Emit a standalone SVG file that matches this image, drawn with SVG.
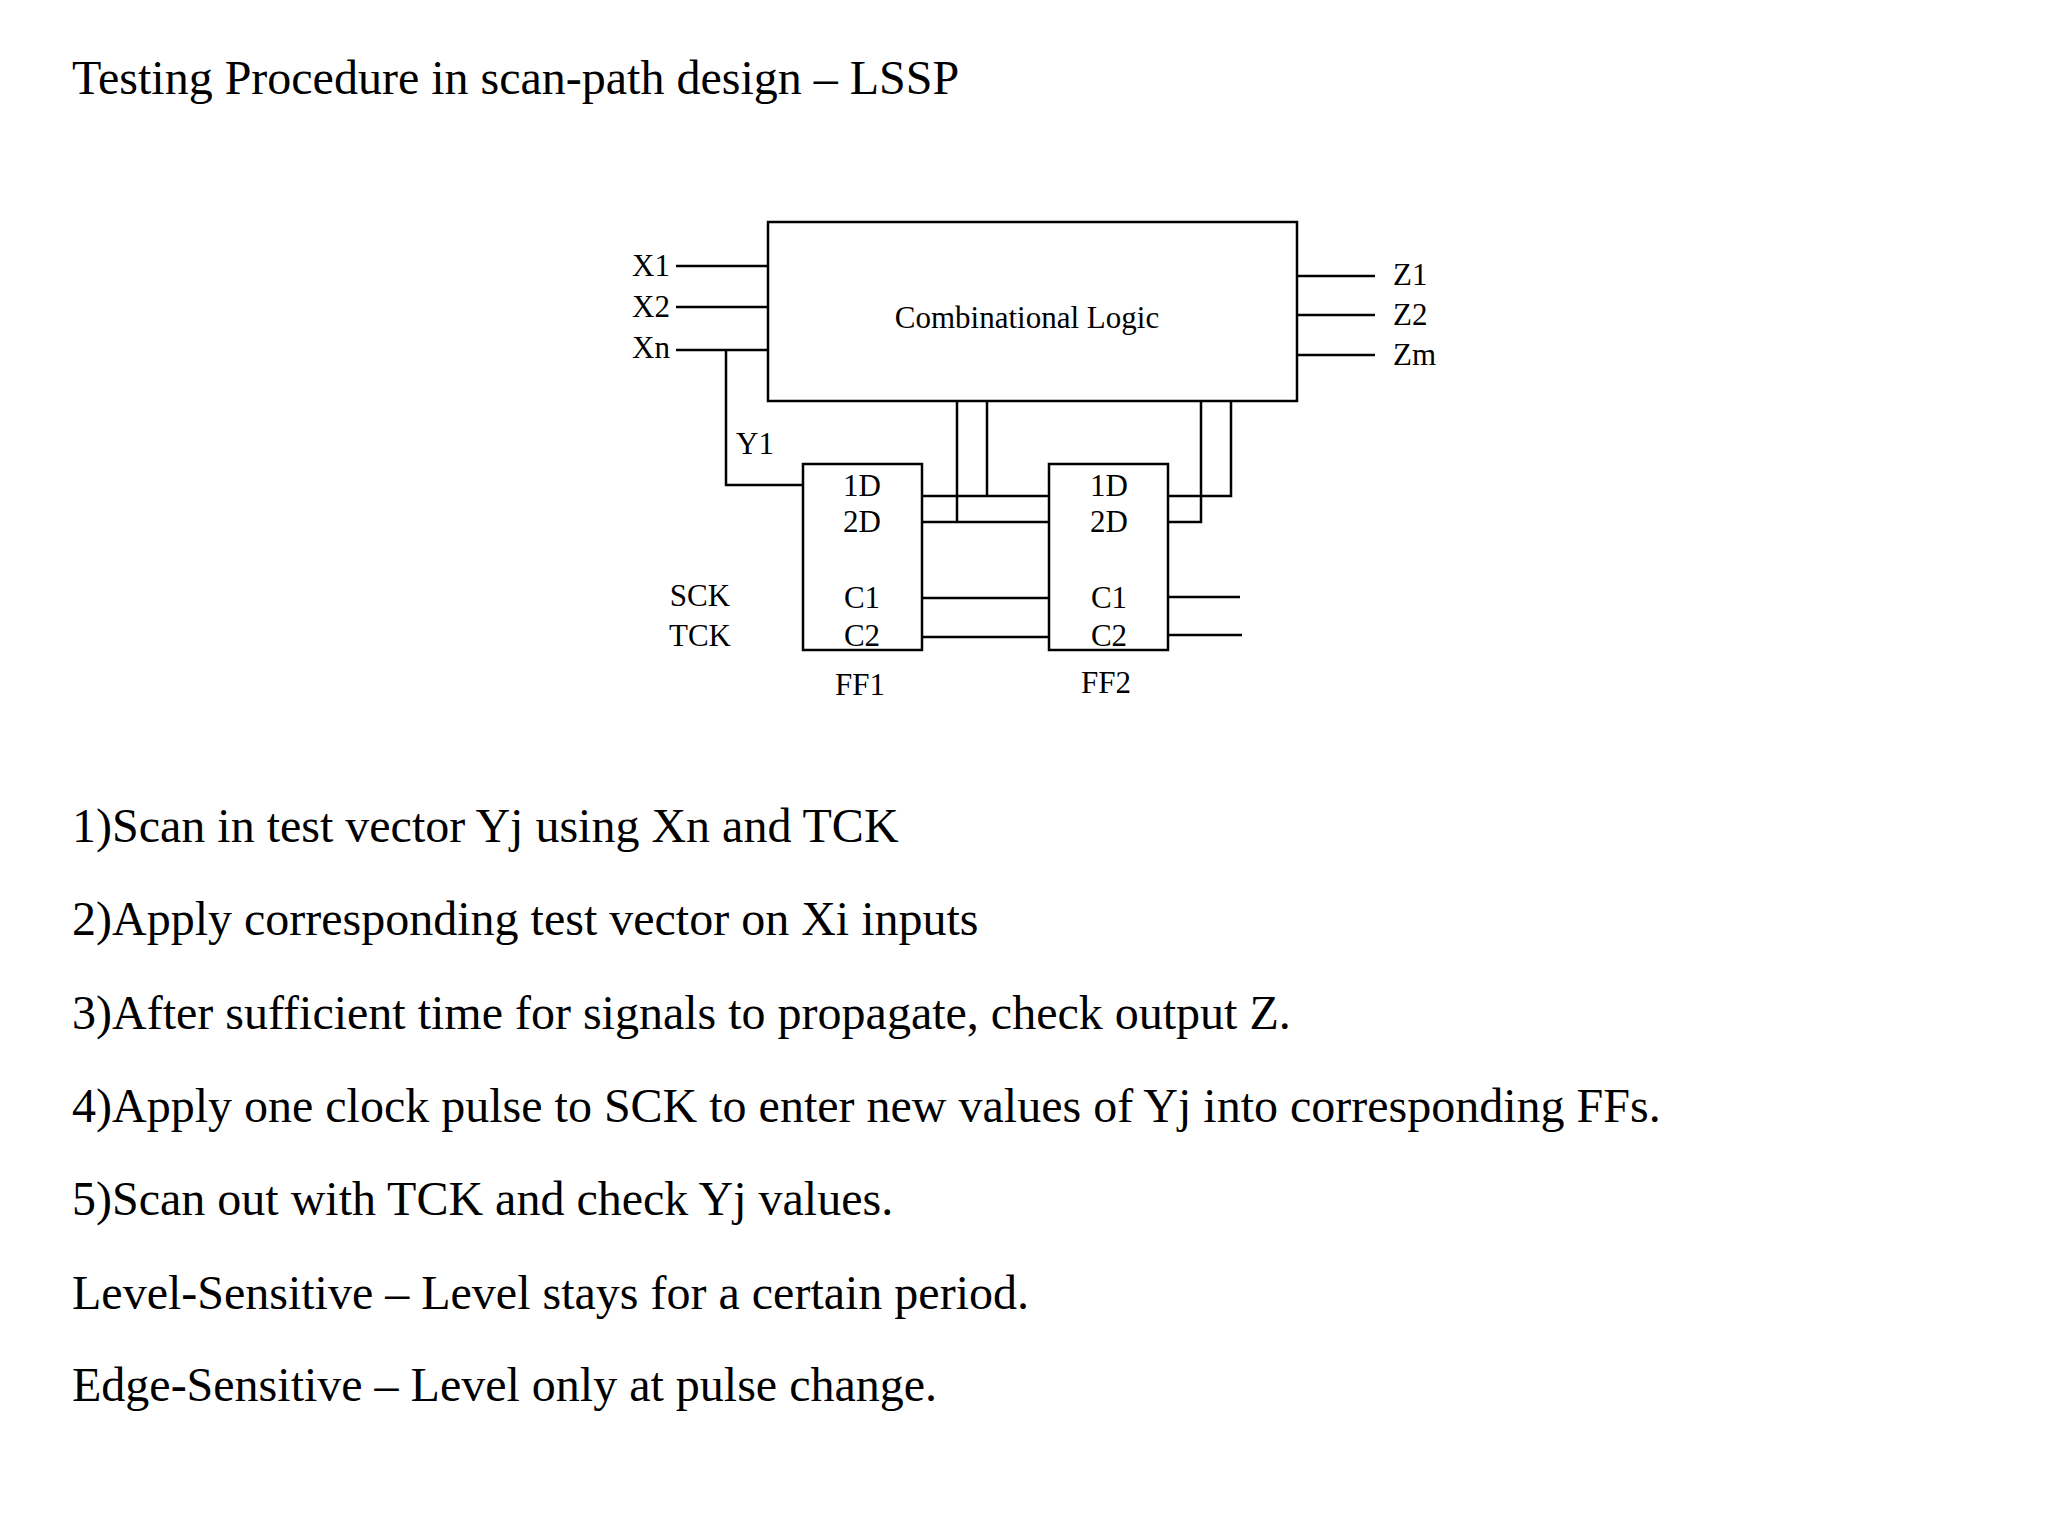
<svg xmlns="http://www.w3.org/2000/svg" width="2048" height="1536" viewBox="0 0 2048 1536">
<style>
.t{font-family:"Liberation Serif","Times New Roman",serif;font-size:48px;fill:#000}
.d{font-family:"Liberation Serif","Times New Roman",serif;font-size:31px;fill:#000}
.m{text-anchor:middle}
.w{stroke:#000;stroke-width:2.5;fill:none}
.b{stroke:#000;stroke-width:2.5;fill:#fff}
</style>
<rect width="2048" height="1536" fill="#fff"/>
<text class="t" x="72" y="94">Testing Procedure in scan-path design – LSSP</text>
<g id="comb"><rect class="b" x="768" y="222" width="529" height="179"/><text class="d m" x="1027" y="328">Combinational Logic</text></g>
<g id="ff1"><rect class="b" x="803" y="464" width="119" height="186"/>
<text class="d m" x="862" y="496">1D</text><text class="d m" x="862" y="532">2D</text><text class="d m" x="862" y="608">C1</text><text class="d m" x="862" y="646">C2</text><text class="d m" x="860" y="695">FF1</text></g>
<g id="ff2"><rect class="b" x="1049" y="464" width="119" height="186"/>
<text class="d m" x="1109" y="496">1D</text><text class="d m" x="1109" y="532">2D</text><text class="d m" x="1109" y="608">C1</text><text class="d m" x="1109" y="646">C2</text><text class="d m" x="1106" y="693">FF2</text></g>
<g id="labels">
<text class="d" x="670" y="276" text-anchor="end">X1</text>
<text class="d" x="670" y="317" text-anchor="end">X2</text>
<text class="d" x="670" y="358" text-anchor="end">Xn</text>
<text class="d" x="1393" y="285">Z1</text>
<text class="d" x="1393" y="325">Z2</text>
<text class="d" x="1393" y="365">Zm</text>
<text class="d" x="736" y="454">Y1</text>
<text class="d m" x="700" y="606">SCK</text>
<text class="d m" x="700" y="646">TCK</text>
</g>
<g id="connectors">
<path class="w" d="M676 266H768M676 307H768M676 350H768M1297 276H1375M1297 315H1375M1297 355H1375"/>
<path class="w" d="M726 350V485H804"/>
<path class="w" d="M922 496H1049M987 401V496M922 522H1049M957 401V522"/>
<path class="w" d="M1168 496H1231V401M1168 522H1201V401"/>
<path class="w" d="M922 598H1049M922 637H1049M1168 597H1240M1168 635H1242"/>
</g>
<g id="text">
<text class="t" x="72" y="842">1)Scan in test vector Yj using Xn and TCK</text>
<text class="t" x="72" y="935">2)Apply corresponding test vector on Xi inputs</text>
<text class="t" x="72" y="1029">3)After sufficient time for signals to propagate, check output Z.</text>
<text class="t" x="72" y="1122">4)Apply one clock pulse to SCK to enter new values of Yj into corresponding FFs.</text>
<text class="t" x="72" y="1215">5)Scan out with TCK and check Yj values.</text>
<text class="t" x="72" y="1309">Level-Sensitive – Level stays for a certain period.</text>
<text class="t" x="72" y="1401">Edge-Sensitive – Level only at pulse change.</text>
</g>
</svg>
